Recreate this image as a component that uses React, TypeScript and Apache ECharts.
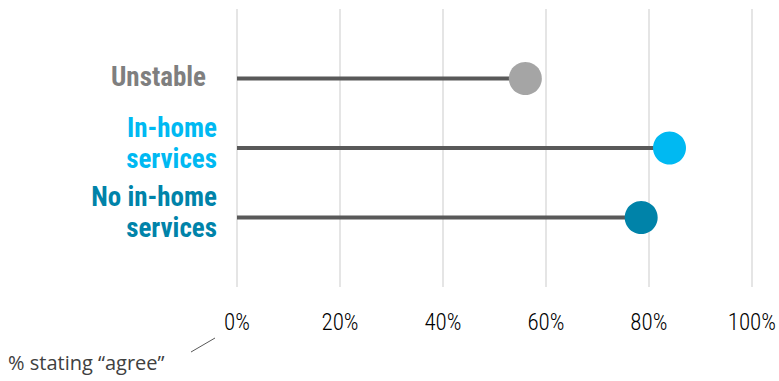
import React, { useEffect, useRef } from "react";
import * as echarts from "echarts";

const categories = ["Unstable", "In-home\nservices", "No in-home\nservices"];
const values = [56, 84, 78.5];
const labelColors = ["#7F7F7F", "#00B9F2", "#0083A9"];
const dotColors = ["#A5A5A5", "#00B9F2", "#0083A9"];
const tickValues = [0, 20, 40, 60, 80, 100];
const footnote = "% stating \u201Cagree\u201D";

const NARROW = "'Roboto Condensed', 'Liberation Sans Narrow', 'Arial Narrow', sans-serif";

export default function App() {
  const ref = useRef<HTMLDivElement>(null);
  useEffect(() => {
    if (!ref.current) return;
    const chart = echarts.init(ref.current, undefined, { renderer: "svg" });
    const yData = ["", ...categories, " "];
    const rich: any = {
      gap: { lineHeight: 10, fontSize: 1 },
    };
    categories.forEach((_, i) => {
      rich["c" + i] = {
        color: labelColors[i],
        fontSize: 27,
        fontWeight: "bold",
        fontFamily: NARROW,
        lineHeight: 31,
        align: "right",
        padding: i === 0 ? [0, 11, 4, 0] : 0,
      };
    });
    chart.setOption({
      animation: false,
      grid: { left: 237, right: 25, top: 9, bottom: 94, containLabel: false },
      xAxis: {
        type: "value",
        min: tickValues[0],
        max: tickValues[tickValues.length - 1],
        interval: tickValues[1] - tickValues[0],
        axisLine: { show: false },
        axisTick: { show: false },
        splitLine: { show: true, lineStyle: { color: "#DDDDDD", width: 1.5 } },
        axisLabel: {
          formatter: "{value}%",
          color: "#000000",
          fontSize: 23,
          fontWeight: 300,
          fontFamily: NARROW,
          margin: 24,
        },
      },
      yAxis: {
        type: "category",
        data: yData,
        inverse: true,
        boundaryGap: false,
        axisLine: { show: false },
        axisTick: { show: false },
        splitLine: { show: false },
        axisLabel: {
          margin: 20,
          interval: 0,
          rich,
          formatter: (v: string, idx: number) => {
            const i = idx - 1;
            if (i < 0 || i >= categories.length) return "";
            const lines = v.split("\n").map((l) => `{c${i}|${l}}`).join("\n");
            return lines.indexOf("\n") >= 0 ? lines + "\n{gap|}" : lines;
          },
        },
      },
      series: [
        {
          type: "bar",
          data: ["-", ...values, "-"],
          barWidth: 4,
          itemStyle: { color: "#595959" },
          silent: true,
        },
        {
          type: "scatter",
          symbolSize: 33,
          data: values.map((v, i) => ({
            value: [v, i + 1],
            itemStyle: { color: dotColors[i], opacity: 1 },
          })),
          z: 5,
        },
      ],
      graphic: [
        {
          type: "text",
          left: 8,
          top: 352,
          style: {
            text: footnote,
            fill: "#404040",
            fontSize: 20,
            fontFamily: "'Open Sans', 'Noto Sans', sans-serif",
          },
        },
        {
          type: "line",
          shape: { x1: 191, y1: 352, x2: 215, y2: 338 },
          style: { stroke: "#595959", lineWidth: 1 },
        },
      ],
    });
    return () => chart.dispose();
  }, []);
  return <div ref={ref} style={{ width: 779, height: 381, position: "absolute", left: 0, top: 0 }} />;
}
